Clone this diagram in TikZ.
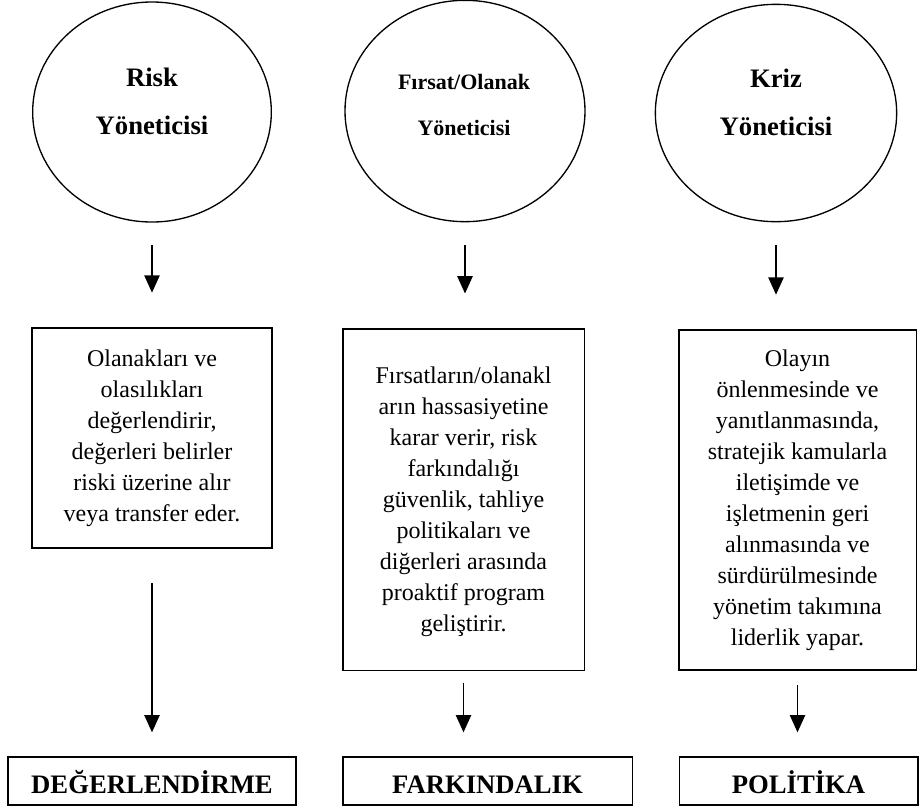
\documentclass[tikz,border=0pt]{standalone}
\usepackage{fontspec}
\setmainfont{Liberation Serif}
\usetikzlibrary{positioning,shapes.geometric,arrows.meta}

\begin{document}
\begin{tikzpicture}
                    [
                        x=0.75pt, y=-0.75pt,
                        manager/.style={draw,ellipse,line width=1pt,inner sep=0pt},
                        mgrlabel/.style={align=center,font=\bfseries\fontsize{20}{36}\selectfont},
                        duty/.style={draw,rectangle,line width=1pt,align=center,inner sep=0pt,
                                     font=\fontsize{18}{23.25}\selectfont},
                        result/.style={draw,rectangle,line width=1pt,minimum height=36pt,
                                       inner sep=0pt,text height=18pt,text depth=0pt,
                                       font=\bfseries\fontsize{20}{24}\selectfont},
                        arr/.style={-{Triangle[length=13pt,width=11.5pt]},line width=1.1pt}
                    ]

                    % Rahmen
                    \useasboundingbox (0,0) rectangle (920,808);

                    % Yoneticiler
                    \node[manager,minimum width=179pt,minimum height=165pt] (risk) at (152,112) {};
                    \node[manager,minimum width=180pt,minimum height=166pt] (firsat) at (465,111) {};
                    \node[manager,minimum width=181pt,minimum height=163pt] (kriz) at (776,113) {};
                    \node[mgrlabel] (risklbl) at (152,101) {Risk\\Yöneticisi};
                    \node[mgrlabel,font=\bfseries\fontsize{16.5}{34.5}\selectfont] (firsatlbl) at (464,105) {Fırsat/Olanak\\Yöneticisi};
                    \node[mgrlabel] (krizlbl) at (776,102.5) {Kriz\\Yöneticisi};

                    % Gorevler
                    \node[duty,minimum width=180pt,minimum height=165pt] (riskbox) at (152,438)
                        {Olanakları ve\\olasılıkları\\değerlendirir,\\değerleri belirler\\riski üzerine alır\\veya transfer eder.};
                    \node[duty,minimum width=181pt,minimum height=256pt] (firsatbox) at (463.5,499.5)
                        {\\[-8pt]Fırsatların/olanakl\\arın hassasiyetine\\karar verir, risk\\farkındalığı\\güvenlik, tahliye\\politikaları ve\\diğerleri arasında\\proaktif program\\geliştirir.};
                    \node[duty,minimum width=178pt,minimum height=255pt] (krizbox) at (797.5,500)
                        {Olayın\\önlenmesinde ve\\yanıtlanmasında,\\stratejik kamularla\\iletişimde ve\\işletmenin geri\\alınmasında ve\\sürdürülmesinde\\yönetim takımına\\liderlik yapar.};

                    % Sonuclar
                    \node[result,minimum width=216pt] (degerl) at (152,781) {DEĞERLENDİRME};
                    \node[result,minimum width=217pt] (farkind) at (487.5,781) {FARKINDALIK};
                    \node[result,minimum width=179pt] (politika) at (798.5,781) {POLİTİKA};

                    \draw[arr,shorten <=17pt,shorten >=26pt] (risk) -- (riskbox);
                    \draw[arr,shorten <=17pt,shorten >=26pt] (firsat) -- (firsat |- firsatbox.north);
                    \draw[arr,shorten <=17pt,shorten >=26pt] (kriz) -- (kriz |- krizbox.north);

                    \draw[arr,shorten <=26pt,shorten >=18pt] (riskbox) -- (degerl);
                    \draw[arr,shorten <=9pt,shorten >=18pt] (firsatbox) -- (firsatbox |- farkind.north);
                    \draw[arr,shorten <=11pt,shorten >=18pt] (krizbox) -- (krizbox |- politika.north);
\end{tikzpicture}
\end{document}
